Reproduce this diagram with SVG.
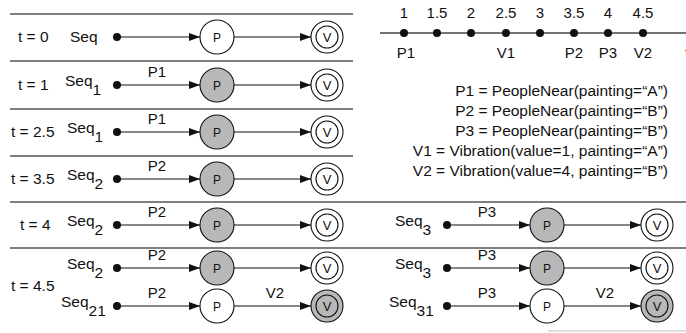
<svg xmlns="http://www.w3.org/2000/svg" width="686" height="333" viewBox="0 0 686 333">
<style>
text{font-family:"Liberation Sans",Arial,sans-serif;font-size:15.5px;fill:#111}
.sep{stroke:#555;stroke-width:1.5}
.edge{stroke:#111;stroke-width:1.2;fill:none;marker-end:url(#ah)}
.dot{fill:#111}
.pw{fill:#fff;stroke:#111;stroke-width:1.1}
.pg{fill:#b8b8b8;stroke:#111;stroke-width:1.1}
.in{fill:none;stroke:#111;stroke-width:1.1}
.ct{font-size:12px;text-anchor:middle}
.vt{font-size:13px;text-anchor:middle}
.el{font-size:15px;text-anchor:middle}
.tl{font-size:15px;text-anchor:middle}
.lg{text-anchor:end}
</style>
<defs>
<marker id="ah" markerUnits="userSpaceOnUse" markerWidth="11" markerHeight="8" refX="11" refY="4" orient="auto">
<path d="M0,0 L11,4 L0,8 z" fill="#111"/>
</marker>
<g id="pW"><circle r="17" class="pw"/><text y="4.5" class="ct">P</text></g>
<g id="pG"><circle r="17" class="pg"/><text y="4.5" class="ct">P</text></g>
<g id="vW"><circle r="16" class="pw"/><circle r="11" class="in"/><text y="5" class="vt">V</text></g>
<g id="vG"><circle r="16" class="pg"/><circle r="11" class="in"/><text y="5" class="vt">V</text></g>
</defs>
<rect width="686" height="333" fill="#fff"/>

<g id="separators">
<line class="sep" x1="10" y1="14" x2="353" y2="14"/>
<line class="sep" x1="10" y1="61" x2="353" y2="61"/>
<line class="sep" x1="10" y1="109" x2="353" y2="109"/>
<line class="sep" x1="10" y1="156" x2="353" y2="156"/>
<line class="sep" x1="10" y1="202" x2="686" y2="202"/>
<line class="sep" x1="10" y1="248" x2="686" y2="248"/>
<line x1="548" y1="331" x2="686" y2="331" stroke="#ddd" stroke-width="2"/>
</g>

<g id="timeline">
<line x1="380" y1="33" x2="686" y2="33" stroke="#444" stroke-width="1.5"/>
<g class="dot">
<circle cx="404" cy="33" r="4"/><circle cx="437" cy="33" r="4"/><circle cx="471" cy="33" r="4"/><circle cx="506" cy="33" r="4"/>
<circle cx="540" cy="33" r="4"/><circle cx="574" cy="33" r="4"/><circle cx="608" cy="33" r="4"/><circle cx="643" cy="33" r="4"/>
</g>
<text class="tl" x="404" y="18">1</text><text class="tl" x="437" y="18">1.5</text><text class="tl" x="471" y="18">2</text><text class="tl" x="506" y="18">2.5</text>
<text class="tl" x="540" y="18">3</text><text class="tl" x="574" y="18">3.5</text><text class="tl" x="608" y="18">4</text><text class="tl" x="643" y="18">4.5</text>
<text class="tl" x="406" y="58">P1</text><text class="tl" x="506" y="58">V1</text><text class="tl" x="574" y="58">P2</text><text class="tl" x="608" y="58">P3</text><text class="tl" x="643" y="58">V2</text>
<text class="tl" x="687" y="58">t</text>
</g>

<g id="legend">
<text class="lg" x="668" y="96">P1 = PeopleNear(painting=“A”)</text>
<text class="lg" x="668" y="116">P2 = PeopleNear(painting=“B”)</text>
<text class="lg" x="668" y="136">P3 = PeopleNear(painting=“B”)</text>
<text class="lg" x="668" y="156">V1 = Vibration(value=1, painting=“A”)</text>
<text class="lg" x="668" y="176">V2 = Vibration(value=4, painting=“B”)</text>
</g>

<g id="labels">
<text x="18" y="42">t = 0</text>
<text x="18" y="90">t = 1</text>
<text x="11" y="137">t = 2.5</text>
<text x="11" y="184">t = 3.5</text>
<text x="20" y="230">t = 4</text>
<text x="11" y="291">t = 4.5</text>
</g>

<g id="row-t0">
<text x="70" y="42">Seq</text>
<circle class="dot" cx="117" cy="37" r="4"/>
<use href="#pW" x="217" y="37"/>
<use href="#vW" x="327" y="37"/>
</g>
<g id="row-t1">
<text x="65" y="86">Seq<tspan dy="9">1</tspan></text>
<circle class="dot" cx="117" cy="85" r="4"/>
<use href="#pG" x="217" y="85"/>
<use href="#vW" x="327" y="85"/>
</g>
<g id="row-t2_5">
<text x="67" y="133">Seq<tspan dy="9">1</tspan></text>
<circle class="dot" cx="117" cy="132" r="4"/>
<use href="#pG" x="217" y="132"/>
<use href="#vW" x="327" y="132"/>
</g>
<g id="row-t3_5">
<text x="67" y="180">Seq<tspan dy="9">2</tspan></text>
<circle class="dot" cx="117" cy="179" r="4"/>
<use href="#pG" x="217" y="179"/>
<use href="#vW" x="327" y="179"/>
</g>
<g id="row-t4-seq2">
<text x="67" y="226">Seq<tspan dy="9">2</tspan></text>
<circle class="dot" cx="117" cy="225" r="4"/>
<use href="#pG" x="217" y="225"/>
<use href="#vW" x="327" y="225"/>
</g>
<g id="row-t4-seq3">
<text x="395" y="226">Seq<tspan dy="9">3</tspan></text>
<circle class="dot" cx="447" cy="225" r="4"/>
<use href="#pG" x="547" y="225"/>
<use href="#vW" x="657" y="225"/>
</g>
<g id="row-t4_5-seq2">
<text x="67" y="269">Seq<tspan dy="9">2</tspan></text>
<circle class="dot" cx="117" cy="268" r="4"/>
<use href="#pG" x="217" y="268"/>
<use href="#vW" x="327" y="268"/>
</g>
<g id="row-t4_5-seq3">
<text x="395" y="269">Seq<tspan dy="9">3</tspan></text>
<circle class="dot" cx="447" cy="268" r="4"/>
<use href="#pG" x="547" y="268"/>
<use href="#vW" x="657" y="268"/>
</g>
<g id="row-t4_5-seq21">
<text x="61" y="307">Seq<tspan dy="9">21</tspan></text>
<circle class="dot" cx="117" cy="306" r="4"/>
<use href="#pW" x="217" y="306"/>
<use href="#vG" x="327" y="306"/>
</g>
<g id="row-t4_5-seq31">
<text x="389" y="307">Seq<tspan dy="9">31</tspan></text>
<circle class="dot" cx="447" cy="306" r="4"/>
<use href="#pW" x="547" y="306"/>
<use href="#vG" x="657" y="306"/>
</g>

<g id="connectors">
<line class="edge" x1="117" y1="37" x2="200" y2="37"/><line class="edge" x1="234" y1="37" x2="311" y2="37"/>
<line class="edge" x1="117" y1="85" x2="200" y2="85"/><line class="edge" x1="234" y1="85" x2="311" y2="85"/>
<line class="edge" x1="117" y1="132" x2="200" y2="132"/><line class="edge" x1="234" y1="132" x2="311" y2="132"/>
<line class="edge" x1="117" y1="179" x2="200" y2="179"/><line class="edge" x1="234" y1="179" x2="311" y2="179"/>
<line class="edge" x1="117" y1="225" x2="200" y2="225"/><line class="edge" x1="234" y1="225" x2="311" y2="225"/>
<line class="edge" x1="447" y1="225" x2="530" y2="225"/><line class="edge" x1="564" y1="225" x2="641" y2="225"/>
<line class="edge" x1="117" y1="268" x2="200" y2="268"/><line class="edge" x1="234" y1="268" x2="311" y2="268"/>
<line class="edge" x1="447" y1="268" x2="530" y2="268"/><line class="edge" x1="564" y1="268" x2="641" y2="268"/>
<line class="edge" x1="117" y1="306" x2="200" y2="306"/><line class="edge" x1="234" y1="306" x2="311" y2="306"/>
<line class="edge" x1="447" y1="306" x2="530" y2="306"/><line class="edge" x1="564" y1="306" x2="641" y2="306"/>
<text class="el" x="157" y="77">P1</text>
<text class="el" x="157" y="124">P1</text>
<text class="el" x="157" y="171">P2</text>
<text class="el" x="157" y="217">P2</text>
<text class="el" x="487" y="217">P3</text>
<text class="el" x="157" y="260">P2</text>
<text class="el" x="487" y="260">P3</text>
<text class="el" x="157" y="298">P2</text>
<text class="el" x="275" y="298">V2</text>
<text class="el" x="487" y="298">P3</text>
<text class="el" x="605" y="298">V2</text>
</g>
</svg>
